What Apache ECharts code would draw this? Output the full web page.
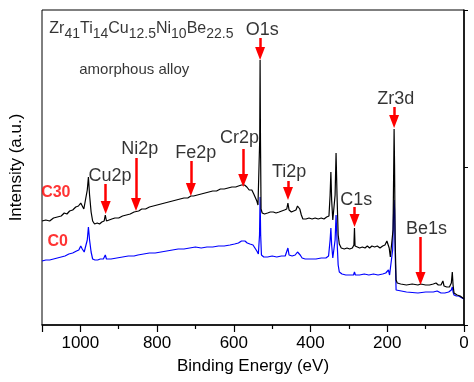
<!DOCTYPE html>
<html><head><meta charset="utf-8">
<script src="https://cdn.jsdelivr.net/npm/echarts@6/dist/echarts.min.js"></script>
<style>html,body{margin:0;padding:0;background:#fff}#c{width:474px;height:382px}</style>
</head><body><div id="c"></div>
<script>
// Binding energy (eV) and intensity (a.u.)
const c30Energy = [1100,1090,1080,1070,1060,1050,1042,1035,1028,1020,1012,1005,999,995,991,986,982,979,976,972,968,963,956,950,944,938,935,932,925,918,910,900,890,880,870,860,855,848,840,830,820,810,800,790,780,770,760,750,740,730,720,712,705,695,685,675,665,655,645,635,625,615,605,595,588,580,576,572,566,560,553,548,544,540,537,534,532.5,531.5,530.5,529,526,520,512,505,497,490,482,475,468,462,459,456,450,444,438,434,431,428,424,420,412,404,396,388,380,372,365,358,352,349,347,345,342,339,336,333.5,331,328,325,320,312,305,298,291,287,285.5,284,280,272,265,258,252,246,240,233,226,219,212,206,201,198,195,192,188,185,183,182.2,181,179.5,177,174,165,150,135,120,113,100,90,80,73,70,67,60,55,52,45,38,33,30.5,28.5,26,22,18,14,10,6,3,0];
const c30Intensity = [104,105,104,107,108,109,112,111,114,115,118,119,122,120,116,117,135,148,130,113,104,101,102,101,103,104,110,104,105,106,107,107,109,110,111,113,114,114,116,116,118,119,120,121,122,123,124,125,126,127,127,129,129,130,131,132,133,134,134,136,136,137,138,138,139,140,142,140,138,135,135,131,129,124,120,119,185,265,185,116,112,111,112,113,113,112,113,114,115,116,122,115,113,114,115,119,120,116,110,106,106,107,106,107,106,107,106,108,109,130,153,125,105,103,130,172,130,90,81,77,76,77,76,77,80,97,79,77,77,78,77,79,77,79,78,79,77,79,80,84,86,77,68,66,95,165,196,160,85,45,42,41,40,41,40,41,40,40,41,42,44,40,40,44,39,38,38,42,53,40,32,33,30,31,29,28,27,26];
const c0Energy = [1100,1090,1080,1070,1060,1050,1040,1030,1020,1010,1004,999,995,990,985,982,979,976,972,968,962,955,948,940,935,932,920,905,890,875,860,850,835,820,805,790,775,760,745,730,715,700,685,670,655,640,625,610,598,588,580,576,571,565,558,550,545,540,536,533,531.5,530,528,522,512,500,488,476,466,461,459,456,448,440,434,431,427,422,414,400,386,372,360,353,349,347,345,342,339,336,333.5,331,328,325,318,308,298,288,285.5,283,272,260,248,236,224,212,204,200,197,194,190,186,183,182.2,181,179,177,172,150,120,100,80,70,67,60,55,50,40,33,30.5,28.5,26,20,14,10,5,0];
const c0Intensity = [64,65,65,66,67,68,69,71,72,74,75,79,76,73,75,85,98,85,73,66,65,65,66,66,70,66,66,67,68,69,69,70,71,72,72,73,74,75,76,76,77,78,77,78,78,79,79,80,81,82,84,86,84,82,81,80,77,74,71,90,128,90,70,68,68,69,68,69,69,70,77,70,69,70,73,74,70,67,66,66,66,67,67,69,85,97,80,67,66,85,110,85,60,53,51,50,50,50,53,50,50,51,50,51,50,51,52,54,55,50,48,75,120,125,115,65,35,33,33,32,33,33,34,32,32,34,32,33,35,38,33,30,29,29,28,27,26];

// Peak annotations: name, energy of arrow, arrow start/tip intensity, label position
const peakNames   = ['O1s','Cu2p','Ni2p','Fe2p','Cr2p','Ti2p','C1s','Zr3d','Be1s'];
const peakEnergy  = [531.5, 934, 855, 712, 575.5, 458.8, 285.3, 182.2, 113.4];
const arrowFrom   = [287, 141, 167, 164, 176, 144, 118, 218, 88];
const arrowTip    = [265, 111, 114, 129, 138, 125, 98, 197, 40];
const labelEnergy = [525.8, 922.7, 845, 699, 585, 456, 281, 178, 98];
const labelInt    = [295, 149, 176, 172, 187, 153, 125, 226, 96];

const seriesNames = ['C30','C0'];
const seriesLabelEnergy = [1064, 1059];
const seriesLabelInt = [132, 83];

const xTicks = [0,200,400,600,800,1000];

const FONT = 'Liberation Sans, Arial, sans-serif';
const HEAD = 13;

function pairs(e, v){ return e.map((x,i)=>[x, v[i]]); }

const chart = echarts.init(document.getElementById('c'), null, {renderer:'canvas'});
const arrowData = peakNames.map((n,i)=>[
  {coord:[peakEnergy[i], arrowFrom[i]]},
  {coord:[peakEnergy[i], arrowTip[i] + HEAD/2]}
]);
chart.setOption({
  animation:false,
  backgroundColor:'#fff',
  grid:{left:37,right:10,top:10,bottom:57,show:true,borderColor:'#000',borderWidth:1},
  xAxis:{
    type:'value',min:0,max:1100,interval:200,inverse:true,
    name:'Binding Energy (eV)',nameLocation:'middle',nameGap:33,
    nameTextStyle:{fontFamily:FONT,fontSize:17,color:'#000'},
    axisLine:{show:true,onZero:false,lineStyle:{color:'#000',width:1.5}},
    axisTick:{show:true,inside:false,length:7,lineStyle:{color:'#000',width:1.2}},
    minorTick:{show:true,splitNumber:2,length:4,lineStyle:{color:'#000',width:1.2}},
    axisLabel:{fontFamily:FONT,fontSize:17,color:'#000',margin:10,showMaxLabel:false,
      formatter:v=> xTicks.indexOf(v)>=0 ? String(v) : ''},
    splitLine:{show:false}
  },
  yAxis:{
    type:'value',min:0,max:315,interval:157.5,
    name:'Intensity (a.u.)',nameLocation:'middle',nameGap:17,
    nameTextStyle:{fontFamily:FONT,fontSize:17,color:'#000'},
    axisLine:{show:true,lineStyle:{color:'#000',width:1.5}},
    axisTick:{show:true,inside:true,length:4,lineStyle:{color:'#000'}},
    axisLabel:{show:false},
    splitLine:{show:false}
  },
  series:[
    {name:'C0',type:'line',data:pairs(c0Energy,c0Intensity),showSymbol:false,symbol:'none',
     lineStyle:{color:'#0000ff',width:1.2},z:2},
    {name:'C30',type:'line',data:pairs(c30Energy,c30Intensity),showSymbol:false,symbol:'none',
     lineStyle:{color:'#000',width:1.2},z:3,
     markLine:{silent:true,symbol:['none','triangle'],symbolSize:[10,HEAD],
       lineStyle:{color:'#ff0000',width:2.5,type:'solid'},
       itemStyle:{color:'#ff0000'},
       label:{show:false},emphasis:{disabled:true},
       data:arrowData}},
    {name:'peaks',type:'scatter',symbolSize:0,z:5,
     data:peakNames.map((n,i)=>({name:n,value:[labelEnergy[i],labelInt[i]]})),
     label:{show:true,position:'inside',formatter:'{b}',fontFamily:FONT,fontSize:18,color:'#000',textBorderWidth:0}},
    {name:'samples',type:'scatter',symbolSize:0,z:5,
     data:seriesNames.map((n,i)=>({name:n,value:[seriesLabelEnergy[i],seriesLabelInt[i]]})),
     label:{show:true,position:'inside',formatter:'{b}',fontFamily:FONT,fontSize:16,fontWeight:'bold',color:'#ff0000',textBorderWidth:0}},
    {name:'notes',type:'scatter',symbolSize:0,z:5,
     data:[
       {name:'alloy',value:[1081,294],label:{formatter:'{m|Zr}{s|41}{m|Ti}{s|14}{m|Cu}{s|12.5}{m|Ni}{s|10}{m|Be}{s|22.5}'}},
       {name:'amorphous alloy',value:[1003,255],label:{formatter:'amorphous alloy',fontSize:15}}
     ],
     label:{show:true,position:'right',distance:0,fontFamily:FONT,color:'#000',textBorderWidth:0,
       rich:{m:{fontFamily:FONT,fontSize:16,color:'#000',padding:[0,0,4,0]},
             s:{fontFamily:FONT,fontSize:14,color:'#000',padding:[6,0,0,0]}}}}
  ]
});
</script></body></html>
